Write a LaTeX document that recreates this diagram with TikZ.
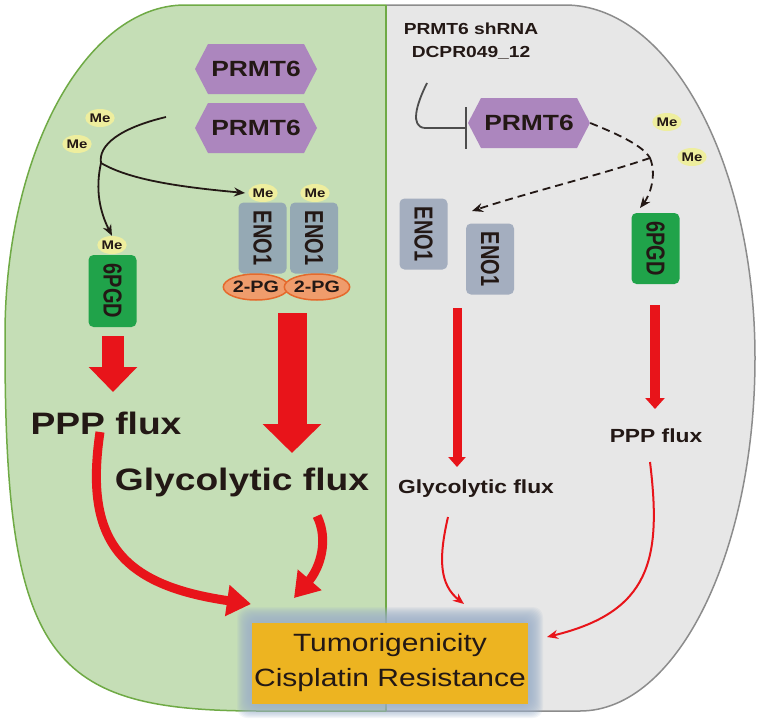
\documentclass[tikz,border=0pt]{standalone}
\usepackage{fontspec}
\usepackage{graphicx}
\setmainfont{Liberation Sans}
\newfontfamily\sfw{Liberation Sans}[FakeStretch=1.2]
\usetikzlibrary{arrows.meta,shapes.geometric,shapes.symbols}
\definecolor{ink}{HTML}{231815}
\definecolor{leftc}{HTML}{C5DEB6}
\definecolor{leftb}{HTML}{6FAA45}
\definecolor{rightc}{HTML}{E7E7E7}
\definecolor{rightb}{HTML}{8C8C8C}
\definecolor{prm}{HTML}{AC86BE}
\definecolor{mey}{HTML}{EEEE9E}
\definecolor{enoL}{HTML}{95A9B4}
\definecolor{enoR}{HTML}{A4AEBF}
\definecolor{pgdc}{HTML}{20A34A}
\definecolor{pgc}{HTML}{EF9C6C}
\definecolor{pgb}{HTML}{E5692C}
\definecolor{redc}{HTML}{E8141A}
\definecolor{outc}{HTML}{EDB421}
\definecolor{glowc}{HTML}{9DB1CA}
\definecolor{inh}{HTML}{4D4D4D}
\newcommand{\vtext}[1]{\rotatebox{-90}{\scalebox{1}[1.3]{#1}}}
\begin{document}
\begin{tikzpicture}[x=1pt,y=-1pt,
  hex/.style={signal, signal to=west and east, signal pointer angle=125, fill=prm, draw=none,
    minimum width=122pt, minimum height=50pt, inner sep=0pt, text=ink,
    font=\sfw\bfseries\fontsize{22}{24}\selectfont},
  me/.style={ellipse, fill=mey, draw=none, minimum width=25pt, minimum height=18pt, inner sep=0pt,
    text=ink, font=\sfw\bfseries\fontsize{12.5}{14}\selectfont},
  enobox/.style={rounded corners=5pt, draw=none, minimum width=48pt, minimum height=71pt, inner sep=0pt,
    text=ink, font=\bfseries\fontsize{20}{22}\selectfont},
  pg/.style={ellipse, fill=pgc, draw=pgb, line width=1.5pt, minimum width=61pt, minimum height=26pt,
    inner sep=0pt, text=ink, font=\sfw\bfseries\fontsize{16.5}{18}\selectfont},
  bigtxt/.style={anchor=base, inner sep=0pt, text=ink, font=\sfw\bfseries\fontsize{31}{36}\selectfont},
  midtxt/.style={anchor=base, inner sep=0pt, text=ink, font=\sfw\bfseries\fontsize{19}{22}\selectfont},
  toptxt/.style={anchor=base, inner sep=0pt, text=ink, font=\sfw\bfseries\fontsize{16}{19}\selectfont},
  blk/.style={draw=ink, line width=1.8pt, -{Stealth[length=11pt,width=9pt]}},
  dsh/.style={draw=ink, line width=1.8pt, dash pattern=on 8pt off 5pt, -{Stealth[length=11pt,width=9pt]}},
  thinred/.style={draw=redc, line width=2pt, -{Stealth[length=11pt,width=9pt]}},
  curvered/.style={draw=redc, line width=9pt, -{Triangle[length=24pt,width=30pt]}},
]
\useasboundingbox (0,0) rectangle (761,723);
% cell halves
\fill[leftc] (386,5) -- (185,5) .. controls (86,5) and (5,153) .. (5,335) -- (5,345)
  .. controls (5,660) and (50,711) .. (260,711) -- (386,711) -- cycle;
\fill[rightc] (386,5) -- (565,5) .. controls (670,5) and (755,163) .. (755,358)
  .. controls (755,553) and (677,711) .. (580,711) -- (386,711) -- cycle;
\draw[rightb, line width=1.5pt] (386,5) -- (565,5) .. controls (670,5) and (755,163) .. (755,358)
  .. controls (755,553) and (677,711) .. (580,711) -- (386,711);
\draw[leftb, line width=1.5pt] (386,5) -- (185,5) .. controls (86,5) and (5,153) .. (5,335) -- (5,345)
  .. controls (5,660) and (50,711) .. (260,711) -- (386,711);
\draw[leftb, line width=1.5pt] (386,5) -- (386,711);
% glow
\foreach \d in {1,...,15}
  \fill[glowc, opacity=0.12, rounded corners=10pt] (252-\d,622-\d) rectangle (528+\d,703+\d);
\node[fill=outc, minimum width=276pt, minimum height=81pt, inner sep=0pt, align=center, text=ink,
  font=\sfw\fontsize{25}{35}\selectfont] (out) at (390,663) {Tumorigenicity\\Cisplatin Resistance};

% ---------- left panel ----------
\node[hex] (prmA) at (256,69) {PRMT6};
\node[hex] (prmB) at (256,128) {PRMT6};
\node[me] (me1) at (100,118) {Me};
\node[me] (me2) at (77,144) {Me};
\node[me] (me3) at (263,193) {Me};
\node[me] (me4) at (315,193) {Me};
\node[me] (me5) at (112,245) {Me};
\node[enobox, fill=enoL] (enoA) at (262.5,238) {\vtext{ENO1}};
\node[enobox, fill=enoL] (enoB) at (314,238) {\vtext{ENO1}};
\node[pg] (pgA) at (256,287) {2-PG};
\node[pg] (pgB) at (317,287) {2-PG};
\node[enobox, fill=pgdc, minimum height=72pt] (pgdL) at (112.5,291) {\vtext{6PGD}};
\node[bigtxt] (pppL) at (106,434) {PPP flux};
\node[bigtxt] (glyL) at (242,490) {Glycolytic flux};

\coordinate (s0) at (166,117);
\coordinate (br) at (101,163);
\draw[draw=ink, line width=1.8pt] (s0) .. controls (120,128) and (98,145) .. (br);
\draw[blk] (br) .. controls (95,190) and (100,212) .. (me5.north);
\draw[blk] (br) .. controls (130,180) and (180,187) .. ([xshift=-3pt]me3.west);

\coordinate (r1s) at (113,336);
\coordinate (r1e) at (113,392);
\draw[draw=redc, line width=22pt, -{Triangle[length=25pt,width=47pt]}] (r1s) -- (r1e);
\coordinate (r2s) at (292,313);
\coordinate (r2e) at (292,453);
\draw[draw=redc, line width=29pt, -{Triangle[length=29pt,width=57pt]}] (r2s) -- (r2e);
\coordinate (c1s) at (100,432);
\coordinate (c1e) at (251,604);
\draw[curvered] (c1s) .. controls (84,540) and (120,585) .. (c1e);
\coordinate (c2s) at (317,516);
\coordinate (c2e) at (294,598);
\draw[curvered] (c2s) .. controls (329,540) and (320,568) .. (c2e);

% ---------- right panel ----------
\node[toptxt] (sh1) at (471,34) {PRMT6 shRNA};
\node[toptxt] (sh2) at (471,57) {DCPR049\_12};
\node[hex] (prmR) at (529,123) {PRMT6};
\node[me] (me6) at (667,122) {Me};
\node[me] (me7) at (692,157) {Me};
\node[enobox, fill=enoR] (enoC) at (423.5,234) {\vtext{ENO1}};
\node[enobox, fill=enoR] (enoD) at (490,259) {\vtext{ENO1}};
\node[enobox, fill=pgdc] (pgdR) at (655.5,248.5) {\vtext{6PGD}};
\node[midtxt] (glyR) at (476,493) {Glycolytic flux};
\node[midtxt] (pppR) at (656,442) {PPP flux};

\coordinate (i0) at (427,83);
\coordinate (i1) at (467,128);
\draw[draw=inh, line width=1.8pt, -{Bar[width=42pt]}] (i0) .. controls (416,105) and (410,127) .. (425,128) -- (i1);

\coordinate (br2) at (650,158);
\coordinate (d1) at (472,211);
\coordinate (d2) at (640,208);
\draw[draw=ink, line width=1.8pt, dash pattern=on 8pt off 5pt] (prmR.east) .. controls (620,135) and (643,146) .. (br2);
\draw[dsh] (br2) .. controls (600,175) and (530,192) .. (d1);
\draw[dsh] (br2) .. controls (657,175) and (650,195) .. (d2);

\coordinate (t1s) at (457,308);
\coordinate (t1e) at (457,467);
\draw[draw=redc, line width=9pt, -{Triangle[length=10pt,width=17pt]}] (t1s) -- (t1e);
\coordinate (t2s) at (655,305);
\coordinate (t2e) at (655,409);
\draw[draw=redc, line width=10pt, -{Triangle[length=11pt,width=19pt]}] (t2s) -- (t2e);
\coordinate (u1s) at (448,517);
\coordinate (u1e) at (464,604);
\draw[thinred] (u1s) .. controls (438,560) and (440,585) .. (u1e);
\coordinate (u2s) at (650,462);
\coordinate (u2e) at (547,637);
\draw[thinred] (u2s) .. controls (662,560) and (650,612) .. (u2e);
\end{tikzpicture}
\end{document}
